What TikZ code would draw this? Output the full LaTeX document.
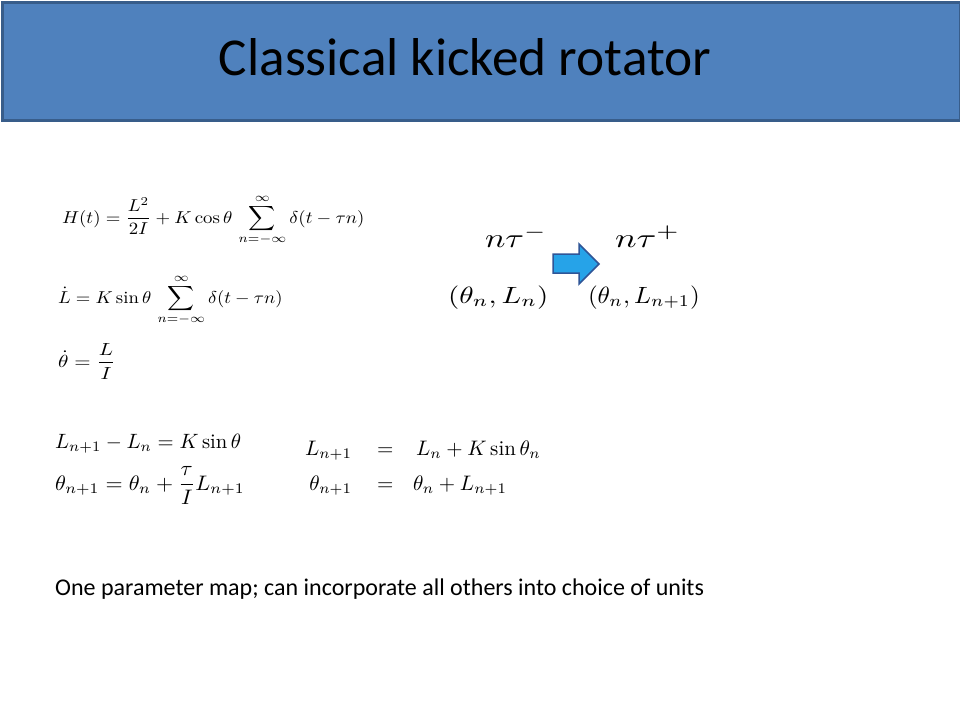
\documentclass[tikz,border=0pt]{standalone}
\usepackage{amsmath}
\usepackage{fontspec}
\newfontfamily\calfont{Carlito}
\definecolor{barfill}{HTML}{4F81BD}
\definecolor{barline}{HTML}{385D8A}
\definecolor{arrowfill}{RGB}{38,163,232}
\definecolor{arrowline}{RGB}{47,85,151}
\tikzset{
  eq/.style={anchor=base west, inner sep=0pt, outer sep=0pt, transform shape, scale=#1},
  eqr/.style={anchor=base east, inner sep=0pt, outer sep=0pt, transform shape, scale=#1},
  eqxy/.style 2 args={anchor=base west, inner sep=0pt, outer sep=0pt, transform shape, xscale=#1, yscale=#2},
  titlebar/.style={draw=barline, fill=barfill, line width=2.5pt, anchor=north west, inner sep=0pt, minimum width=957.5pt, minimum height=118pt},
}
\newcommand{\fs}[1]{\fontsize{#1}{#1}\selectfont}
\begin{document}
\begin{tikzpicture}[x=1pt,y=-1pt]
\useasboundingbox (0,0) rectangle (960,720);
\fill[white] (0,0) rectangle (960,720);
\node[titlebar] (bar) at (1.25,1.25) {};
\node[anchor=base, inner sep=0pt, font=\calfont\fs{53.3}] (title) at (465,75) {Classical kicked rotator};
% left equations
\node[eqxy={1.88}{1.72}] (e1) at (62,223) {$\displaystyle H(t)=\frac{L^2}{2I}+K\cos\theta\,\sum_{n=-\infty}^{\infty}\delta(t-\tau n)$};
\node[eqxy={1.87}{1.72}] (e2) at (58,303) {$\displaystyle \dot L=K\sin\theta\,\sum_{n=-\infty}^{\infty}\delta(t-\tau n)$};
\node[eqxy={2.1}{1.75}] (e3) at (58,367) {$\displaystyle \dot\theta=\frac{L}{I}$};
\node[eq=2.07] (e4) at (55,448) {$L_{n+1}-L_n=K\sin\theta$};
\node[eqxy={2.2}{2.1}] (e5) at (55,490) {$\displaystyle \theta_{n+1}=\theta_n+\frac{\tau}{I}L_{n+1}$};
% map
\node[eqr=2.1] (m1l) at (352,455) {$L_{n+1}$};
\node[eq=2.1] (m1e) at (377,455) {$=$};
\node[eq=2.1] (m1r) at (416,455) {$L_n+K\sin\theta_n$};
\node[eqr=2.1] (m2l) at (352,490) {$\theta_{n+1}$};
\node[eq=2.1] (m2e) at (377,490) {$=$};
\node[eq=2.1] (m2r) at (413,490) {$\theta_n+L_{n+1}$};
% kick
\node[eqxy={3.4}{2.7}] (tm) at (485,247.5) {$n\tau^-$};
\node[eqxy={3.6}{2.7}] (tp) at (615,247.5) {$n\tau^+$};
\node[eqxy={2.9}{2.35}] (sm) at (448,303) {$(\theta_n,L_n)$};
\node[eqxy={2.5}{2.35}] (sp) at (588,303) {$(\theta_n,L_{n+1})$};
\draw[fill=arrowfill, draw=arrowline, line width=1.5pt, line join=miter]
  (553,254) -- (579,254) -- (579,244) -- (599,264) -- (579,284) -- (579,273) -- (553,273) -- cycle;
% note
\node[anchor=base west, inner sep=0pt, font=\calfont\fs{24}] (note) at (55,595) {One parameter map; can incorporate all others into choice of units};
\end{tikzpicture}
\end{document}
